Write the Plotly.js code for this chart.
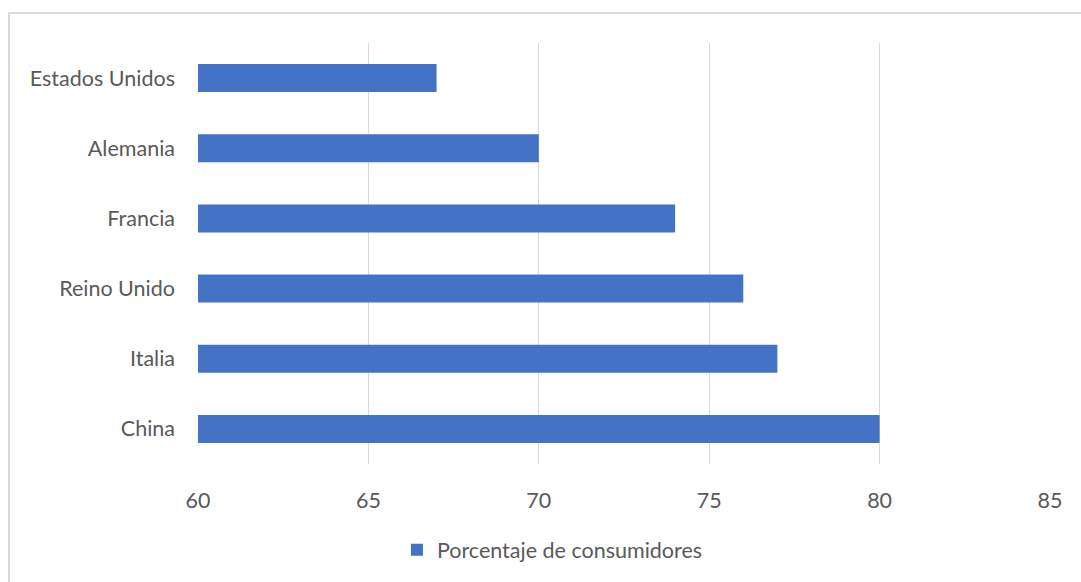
<!DOCTYPE html>
<html>
<head>
<meta charset="utf-8">
<script src="https://cdn.plot.ly/plotly-3.0.1.min.js"></script>
<style>
html,body{margin:0;padding:0;background:#fff;}
#frame{position:absolute;left:8px;top:12px;width:1090px;height:600px;border:2px solid #d9d9d9;box-sizing:border-box;}
#chart{position:absolute;left:0;top:0;width:1081px;height:582px;}
</style>
</head>
<body>
<div id="frame"></div>
<div id="chart"></div>
<script>
const countries = ['China', 'Italia', 'Reino Unido', 'Francia', 'Alemania', 'Estados Unidos'];
const values = [80, 77, 76, 74, 70, 67];
const xTicks = [60, 65, 70, 75, 80, 85];
const seriesName = 'Porcentaje de consumidores';

const trace = {
  type: 'bar',
  orientation: 'h',
  x: values,
  y: countries,
  name: seriesName,
  marker: {color: '#4472c4'},
  hoverinfo: 'x+y',
  cliponaxis: true
};

const fontFam = 'Lato, Carlito, "Open Sans", sans-serif';
const layout = {
  width: 1081,
  height: 582,
  paper_bgcolor: 'rgba(0,0,0,0)',
  plot_bgcolor: 'rgba(0,0,0,0)',
  margin: {l: 198, r: 31, t: 43, b: 116},
  bargap: 0.6,
  showlegend: true,
  font: {family: fontFam, color: '#595959', size: 21.5},
  xaxis: {
    range: [60, 85],
    tickvals: xTicks,
    ticktext: xTicks.map(String),
    showgrid: true,
    gridcolor: '#d9d9d9',
    gridwidth: 1,
    zeroline: false,
    showline: false,
    ticks: '',
    ticklabelstandoff: 21,
    tickfont: {size: 21.5, color: '#595959', family: fontFam}
  },
  yaxis: {
    type: 'category',
    categoryorder: 'array',
    categoryarray: countries,
    showgrid: false,
    zeroline: false,
    showline: false,
    ticks: '',
    ticklabelstandoff: 22,
    tickfont: {size: 21.5, color: '#595959', family: fontFam}
  },
  legend: {
    orientation: 'h',
    x: 0.416,
    xanchor: 'center',
    y: -0.155,
    yanchor: 'top',
    font: {size: 21.5, color: '#595959', family: fontFam},
    bgcolor: 'rgba(0,0,0,0)'
  }
};

Plotly.newPlot('chart', [trace], layout, {displayModeBar: false, staticPlot: true});
</script>
</body>
</html>
